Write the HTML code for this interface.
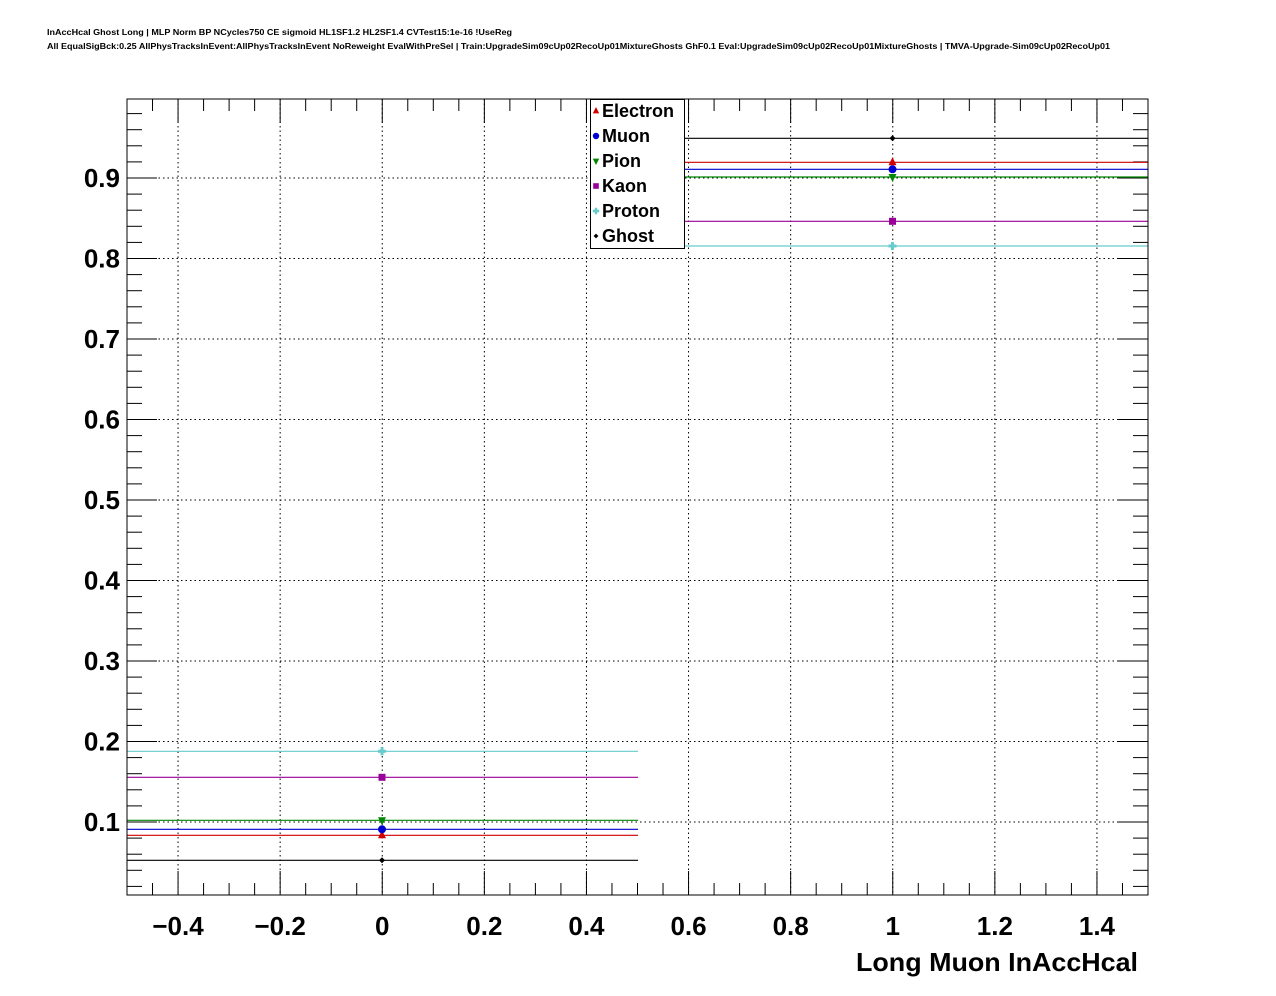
<!DOCTYPE html>
<html><head><meta charset="utf-8"><style>
html,body{margin:0;padding:0;background:#fff;}
svg{display:block;font-family:"Liberation Sans",sans-serif;}
</style></head><body>
<svg id="s" width="1276" height="996" xmlns="http://www.w3.org/2000/svg">
<rect width="1276" height="996" fill="#fff"/>
<text x="47" y="35" font-size="8" font-weight="bold" textLength="465" lengthAdjust="spacingAndGlyphs">InAccHcal Ghost Long | MLP Norm BP NCycles750 CE sigmoid HL1SF1.2 HL2SF1.4 CVTest15:1e-16 !UseReg</text>
<text x="47" y="49" font-size="8" font-weight="bold" textLength="1063" lengthAdjust="spacingAndGlyphs">All EqualSigBck:0.25 AllPhysTracksInEvent:AllPhysTracksInEvent NoReweight EvalWithPreSel | Train:UpgradeSim09cUp02RecoUp01MixtureGhosts GhF0.1 Eval:UpgradeSim09cUp02RecoUp01MixtureGhosts | TMVA-Upgrade-Sim09cUp02RecoUp01</text>
<g id="g"></g>
</svg>
<script>
var g=document.getElementById('g'),h='';
var X0=127,X1=1148,Y0=99,Y1=895;
function px(v){return 382.25+v*510.5;}
function py(v){return 822-(v-0.1)*805;}
for(var i=-4;i<=14;i+=2){var x=px(i/10);h+='<line x1="'+x+'" y1="'+Y0+'" x2="'+x+'" y2="'+Y1+'" stroke="#000" stroke-width="1" stroke-dasharray="1.5,3"/>';}
for(var j=1;j<=9;j++){var y=py(j/10);h+='<line x1="'+X0+'" y1="'+y+'" x2="'+X1+'" y2="'+y+'" stroke="#000" stroke-width="1" stroke-dasharray="1.5,3"/>';}
for(var k=-10;k<=30;k++){var v=k*0.05;var x=px(v);if(x<X0-0.5||x>X1+0.5)continue;var L=(k%4==0)?24:12;
h+='<line x1="'+x+'" y1="'+Y1+'" x2="'+x+'" y2="'+(Y1-L)+'" stroke="#000"/>';
h+='<line x1="'+x+'" y1="'+Y0+'" x2="'+x+'" y2="'+(Y0+L)+'" stroke="#000"/>';}
for(var k=0;k<=50;k++){var v=k*0.02;var y=py(v);if(y<Y0||y>Y1)continue;var L=(k%5==0)?30:15;
h+='<line x1="'+X0+'" y1="'+y+'" x2="'+(X0+L)+'" y2="'+y+'" stroke="#000"/>';
h+='<line x1="'+X1+'" y1="'+y+'" x2="'+(X1-L)+'" y2="'+y+'" stroke="#000"/>';}
var xl=[[-0.4,'\u22120.4'],[-0.2,'\u22120.2'],[0,'0'],[0.2,'0.2'],[0.4,'0.4'],[0.6,'0.6'],[0.8,'0.8'],[1,'1'],[1.2,'1.2'],[1.4,'1.4']];
xl.forEach(function(a){h+='<text x="'+px(a[0])+'" y="935" font-size="26" font-weight="bold" text-anchor="middle">'+a[1]+'</text>';});
for(var j=1;j<=9;j++){h+='<text x="120" y="'+(py(j/10)+9)+'" font-size="26" font-weight="bold" text-anchor="end">0.'+j+'</text>';}
h+='<text x="1138" y="971" font-size="26" font-weight="bold" text-anchor="end" textLength="282" lengthAdjust="spacingAndGlyphs">Long Muon InAccHcal</text>';
var S=[['#d00000',835.3,162.3,'tri'],['#0000d0',829.3,169.3,'circ'],['#008800',820.3,177,'itri'],['#990099',777.3,221.3,'sq'],['#66cccc',751.3,246,'cross'],['#000',860.3,138.3,'dia']];
function mk(t,c,x,y,s){s=s||1;
 if(t=='tri')return '<polygon points="'+x+','+(y-5*s)+' '+(x-4*s)+','+(y+3*s)+' '+(x+4*s)+','+(y+3*s)+'" fill="'+c+'"/>';
 if(t=='itri')return '<polygon points="'+x+','+(y+5*s)+' '+(x-4*s)+','+(y-3*s)+' '+(x+4*s)+','+(y-3*s)+'" fill="'+c+'"/>';
 if(t=='circ')return '<circle cx="'+x+'" cy="'+y+'" r="'+(4*s)+'" fill="'+c+'"/>';
 if(t=='sq')return '<rect x="'+(x-3.5*s)+'" y="'+(y-3.5*s)+'" width="'+(7*s)+'" height="'+(7*s)+'" fill="'+c+'"/>';
 if(t=='cross')return '<path d="M'+(x-4*s)+' '+y+'H'+(x+4*s)+'M'+x+' '+(y-4*s)+'V'+(y+4*s)+'" stroke="'+c+'" stroke-width="'+(3*s)+'"/>';
 return '<polygon points="'+x+','+(y-3*s)+' '+(x+3*s)+','+y+' '+x+','+(y+3*s)+' '+(x-3*s)+','+y+'" fill="'+c+'"/>';}
S.forEach(function(s){
 h+='<line x1="'+X0+'" y1="'+s[1]+'" x2="638" y2="'+s[1]+'" stroke="'+s[0]+'" stroke-width="1.2"/>';
 h+='<line x1="638" y1="'+s[2]+'" x2="'+X1+'" y2="'+s[2]+'" stroke="'+s[0]+'" stroke-width="1.2"/>';
 h+=mk(s[3],s[0],382,s[1]);h+=mk(s[3],s[0],892.5,s[2]);
});
h+='<rect x="'+X0+'" y="'+Y0+'" width="'+(X1-X0)+'" height="'+(Y1-Y0)+'" fill="none" stroke="#000" stroke-width="1"/>';
h+='<rect x="590.5" y="99.5" width="94" height="149" fill="#fff" stroke="#000"/>';
var names=['Electron','Muon','Pion','Kaon','Proton','Ghost'];
for(var i=0;i<6;i++){var y=111+i*25;var s=S[i];h+=mk(s[3],s[0],596,y,0.8);
 h+='<text x="602" y="'+(y+6)+'" font-size="18" font-weight="bold">'+names[i]+'</text>';}
g.innerHTML=h;
</script>
</body></html>
